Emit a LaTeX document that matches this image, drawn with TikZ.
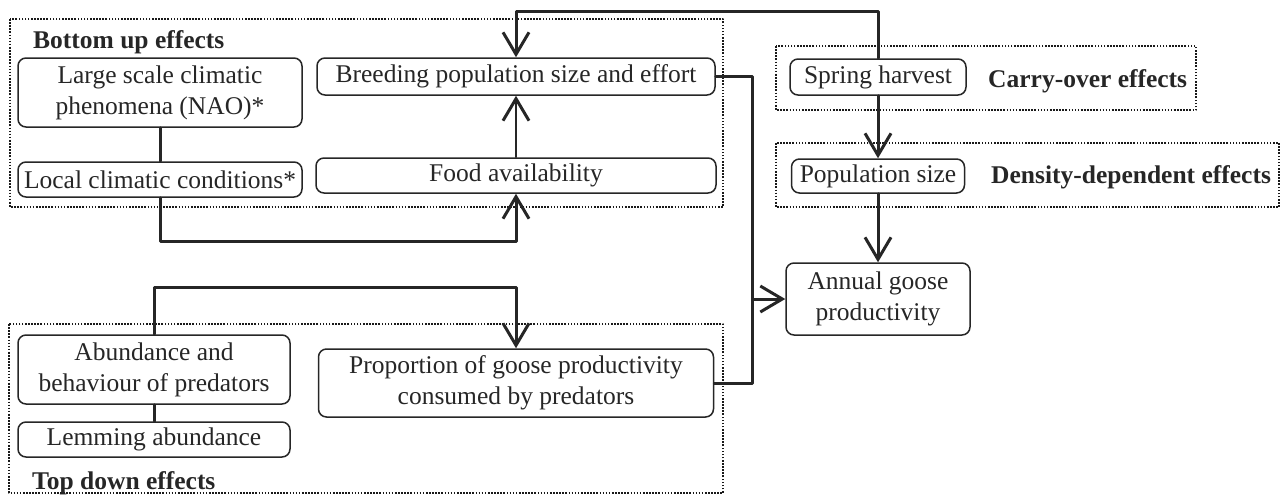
\documentclass[tikz,border=0pt]{standalone}
\usepackage{fontspec}
\setmainfont{Liberation Serif}
\usetikzlibrary{arrows.meta}
\begin{document}
\begin{tikzpicture}[x=1pt,y=-1pt,>={Straight Barb[length=22pt,width=26pt,line width=3pt]},
		font=\fontsize{25.5}{31}\selectfont, line join=round, line cap=round,
		box/.style={draw=black!85,line width=1.5pt,rounded corners=8pt,fill=white,align=center,inner sep=0pt,text=black!85},
		frame/.style={draw=black!90,line width=1.6pt,dash pattern=on 1.6pt off 1.5pt,line cap=butt},
		link/.style={draw=black!85,line width=3pt},
		title/.style={font=\fontsize{25.5}{31}\selectfont\bfseries,inner sep=0pt,anchor=base west,text=black!85}]
		\useasboundingbox (0,0) rectangle (1284,496);
		% Khung
		\draw[frame] (10,19) rectangle (723,207);
		\draw[frame] (776,46) rectangle (1196,110);
		\draw[frame] (776,143) rectangle (1279,207);
		\draw[frame] (9,324) rectangle (723,493);
		\node[title] (tbu) at (33,48) {Bottom up effects};
		\node[title] (ttd) at (32,489) {Top down effects};
		\node[title] (tco) at (988,87) {Carry-over effects};
		\node[title] (tdd) at (991,183) {Density-dependent effects};
		% Nut
		\node[box,minimum width=284pt,minimum height=69pt] (nao) at (160,92.5) {Large scale climatic\\phenomena (NAO)*};
		\node[box,minimum width=284pt,minimum height=35pt] (local) at (160,179.5) {Local climatic conditions*};
		\node[box,minimum width=398pt,minimum height=37pt] (breed) at (516,76.5) {Breeding population size and effort};
		\node[box,minimum width=400pt,minimum height=35pt] (food) at (516,175.5) {Food availability};
		\node[box,minimum width=176pt,minimum height=36pt] (spring) at (878,77) {Spring harvest};
		\node[box,minimum width=173pt,minimum height=34pt] (popsize) at (878,176) {Population size};
		\node[box,minimum width=184pt,minimum height=72pt] (annual) at (878,299) {Annual goose\\productivity};
		\node[box,minimum width=272pt,minimum height=69pt] (abund) at (154,369.5) {Abundance and\\behaviour of predators};
		\node[box,minimum width=272pt,minimum height=35pt] (lemming) at (154,439.5) {Lemming abundance};
		\node[box,minimum width=395pt,minimum height=68pt] (prop) at (516,383) {Proportion of goose productivity\\consumed by predators};
		% Mui ten
		\draw[link] (nao) -- (local);
		\draw[link] (abund) -- (lemming);
		\draw[link,->] (local.south) -- ++(0,44) -| (food.south);
		\draw[link,->,line width=1.5pt] (food) -- (breed);
		\draw[link,->] (spring.north) -- ++(0,-47) -| (breed.north);
		\draw[link,->] (spring) -- (popsize);
		\draw[link,->] (popsize) -- (annual);
		\draw[link] (breed.east) -- ++(37,0) coordinate (jn) |- (prop.east);
		\draw[link,->] (jn |- annual.west) -- (annual.west);
		\draw[link,->] (abund.north) -- ++(0,-47) -| (prop.north);
\end{tikzpicture}
\end{document}
